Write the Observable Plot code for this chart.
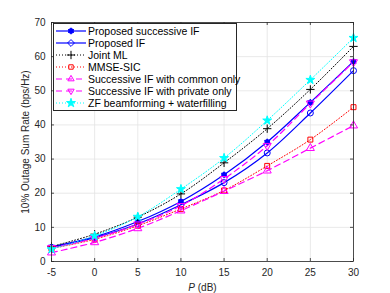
<!DOCTYPE html>
<html><head><meta charset="utf-8">
<script src="https://cdn.jsdelivr.net/npm/d3@7"></script>
<script src="https://cdn.jsdelivr.net/npm/@observablehq/plot@0.6"></script>
<style>
body{margin:0;background:#fff;}
#wrap{position:relative;width:390px;height:293px;font-family:"Liberation Sans",Arial,sans-serif;}
#legend{position:absolute;left:53px;top:23px;width:184px;box-sizing:border-box;border:1px solid #262626;background:#fff;padding:1px 0 1px 0;font-size:10.5px;color:#000;}
.row{display:flex;align-items:center;height:12px;white-space:nowrap;}
.row svg{flex:none;}
</style></head><body><div id="wrap"></div>
<script>
const P = [-5, 0, 5, 10, 15, 20, 25, 30];
const succIF  = [4.3, 7.2, 11.7, 17.6, 25.4, 35.0, 46.6, 58.6];
const propIF  = [4.1, 7.0, 11.0, 16.6, 23.1, 31.8, 43.5, 55.9];
const jointML = [4.4, 8.0, 13.0, 19.8, 28.9, 38.9, 50.4, 63.0];
const mmseSIC = [3.8, 6.5, 10.5, 15.4, 20.8, 28.0, 35.7, 45.2];
const commonOnly  = [2.6, 5.6, 9.7, 14.9, 20.6, 26.6, 33.2, 39.8];
const privateOnly = [4.0, 6.8, 10.9, 16.3, 24.2, 33.9, 46.3, 58.4];
const zfWater = [3.6, 7.5, 13.1, 21.2, 30.3, 41.3, 53.2, 65.5];
const seriesNames = ["Proposed successive IF","Proposed IF","Joint ML","MMSE-SIC","Successive IF with common only","Successive IF with private only","ZF beamforming + waterfilling"];
const xTicks = [-5, 0, 5, 10, 15, 20, 25, 30];
const yTicks = [0, 10, 20, 30, 40, 50, 60, 70];

const styles = [
  {color:"#0000ff", dash:null, w:1.2, symbol:"circle", fill:"#0000ff", r:2.4, legendSym:"circle"},
  {color:"#0000ff", dash:null, w:1.2, symbol:"circle", fill:"none", r:3, legendSym:"diamond"},
  {color:"#000000", dash:"1,2", w:1, symbol:"plus", fill:"none", r:2.8, legendSym:"plus"},
  {color:"#ff0000", dash:"1,2", w:1, symbol:"square", fill:"none", r:2.8, legendSym:"square"},
  {color:"#ff00ff", dash:"6,4", w:1.2, symbol:"triangle", fill:"none", r:3, legendSym:"triangle"},
  {color:"#ff00ff", dash:"6,4", w:1.2, symbol:"triangle", fill:"none", r:3, rot:180, legendSym:"triangle", legendRot:180},
  {color:"#00ffff", dash:"1,2", w:1, symbol:"star", fill:"#00ffff", r:2.8, legendSym:"star"}
];
const allValues = [succIF, propIF, jointML, mmseSIC, commonOnly, privateOnly, zfWater];

const marks = [
  Plot.gridX(xTicks, {stroke:"#e3e3e3", strokeOpacity:1, strokeWidth:0.8}),
  Plot.gridY(yTicks, {stroke:"#e3e3e3", strokeOpacity:1, strokeWidth:0.8}),
];
allValues.forEach((vals, k) => {
  const s = styles[k];
  const data = P.map((p, i) => ({p, v: vals[i]}));
  marks.push(Plot.line(data, {x:"p", y:"v", stroke:s.color, strokeWidth:s.w, strokeDasharray:s.dash, curve:"catmull-rom"}));
});
allValues.forEach((vals, k) => {
  const s = styles[k];
  const data = P.map((p, i) => ({p, v: vals[i]}));
  marks.push(Plot.dot(data, {x:"p", y:"v", symbol:s.symbol, r:s.r, stroke:s.color, strokeWidth:1, fill:s.fill, rotate:s.rot || 0}));
  if (k === 0) marks.push(Plot.dot(data, {x:"p", y:"v", symbol:"asterisk", r:3.2, stroke:s.color, strokeWidth:1}));
});
marks.push(
  Plot.ruleX(xTicks, {x:d=>d, insetTop:236, stroke:"#262626", strokeWidth:0.8}),
  Plot.ruleX(xTicks, {x:d=>d, insetBottom:236, stroke:"#262626", strokeWidth:0.8}),
  Plot.ruleY(yTicks, {y:d=>d, insetRight:299, stroke:"#262626", strokeWidth:0.8}),
  Plot.ruleY(yTicks, {y:d=>d, insetLeft:299, stroke:"#262626", strokeWidth:0.8}),
  Plot.frame({stroke:"#262626", strokeWidth:0.8}),
  Plot.axisX(xTicks, {tickSize:0, tickPadding:7, tickFormat:d=>String(d), label:"P (dB)", labelAnchor:"center", labelArrow:"none", labelOffset:29}),
  Plot.axisY(yTicks, {tickSize:0, tickPadding:6, tickFormat:d=>String(d), label:"10% Outage Sum Rate (bps/Hz)", labelAnchor:"center", labelArrow:"none", labelOffset:30})
);

const chart = Plot.plot({
  width:390, height:293,
  marginLeft:51, marginRight:37, marginTop:22, marginBottom:32,
  x:{domain:[-5,30]},
  y:{domain:[0,70]},
  style:{fontFamily:"'Liberation Sans', Arial, sans-serif", fontSize:"10px", color:"#262626", background:"#fff"},
  marks
});
const wrap = document.getElementById("wrap");
wrap.appendChild(chart);
// italic P in x label
d3.select(chart).selectAll("text").each(function(){
  if (this.textContent === "P (dB)") {
    const t = d3.select(this); t.text(null);
    t.append("tspan").attr("font-style","italic").text("P");
    t.append("tspan").text(" (dB)");
  }
});

// legend
const leg = d3.select(wrap).append("div").attr("id","legend");
seriesNames.forEach((name, k) => {
  const s = styles[k];
  const row = leg.append("div").attr("class","row");
  const svg = row.append("svg").attr("width",34).attr("height",12);
  svg.append("line").attr("x1",2).attr("x2",32).attr("y1",6).attr("y2",6)
    .attr("stroke",s.color).attr("stroke-width",s.w).attr("stroke-dasharray",s.dash);
  const symMap = {circle:d3.symbolCircle, diamond:d3.symbolDiamond2, plus:d3.symbolPlus, square:d3.symbolSquare2, triangle:d3.symbolTriangle2, star:d3.symbolStar};
  const area = Math.PI * s.r * s.r;
  svg.append("path").attr("d", d3.symbol(symMap[s.legendSym], s.legendSym==="diamond"? 30 : area)())
    .attr("transform", `translate(17,6) rotate(${s.legendRot||0})`)
    .attr("fill", s.fill).attr("stroke", s.color).attr("stroke-width",1);
  if (k === 0) svg.append("path").attr("d", d3.symbol(d3.symbolAsterisk, Math.PI*10)()).attr("transform","translate(17,6)").attr("stroke",s.color).attr("fill","none");
  row.append("span").text(name);
});
</script></body></html>
